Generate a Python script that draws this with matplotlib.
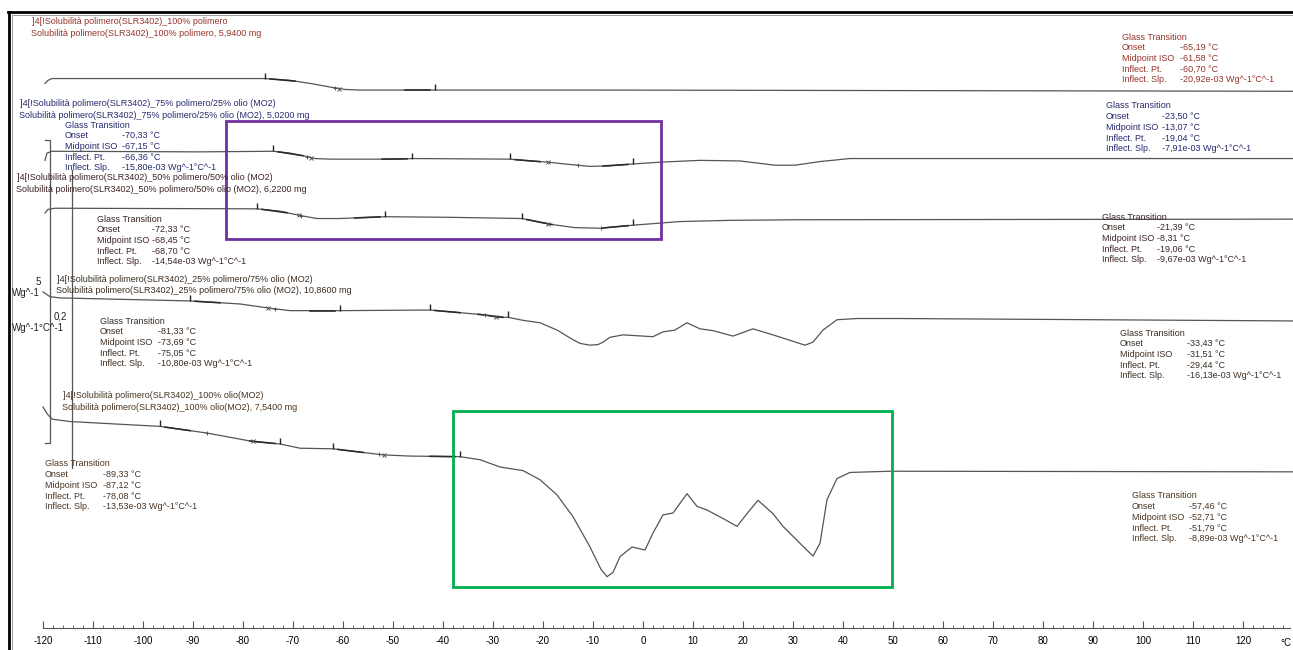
import numpy as np
import matplotlib.pyplot as plt
from matplotlib.patches import Rectangle
from matplotlib.lines import Line2D

plt.rcParams['font.family'] = ['Liberation Sans', 'DejaVu Sans']
plt.rcParams['axes.unicode_minus'] = False

W, H = 1293, 650          # canvas size, px
PX_PER_WG = 60.6          # vertical heat-flow scale, px per Wg^-1

# ---- samples -------------------------------------------------------------
samples = ["100% polimero",
           "75% polimero/25% olio (MO2)",
           "50% polimero/50% olio (MO2)",
           "25% polimero/75% olio (MO2)",
           "100% olio(MO2)"]
masses_mg = [5.94, 5.02, 6.22, 10.86, 7.54]

# ---- DSC curves: temperature (°C) and heat flow relative to start (Wg^-1) --
t_100p = [-119.6, -119.0, -118.2, -98.6, -75.6, -70.6, -66.6, -62.6, -59.6, -56.6,
          -41.6, -8.6, 130.0]
hf_100p = [-0.07, -0.02, 0.01, 0.01, 0.01, -0.02, -0.07, -0.13, -0.17, -0.18,
           -0.18, -0.18, -0.20]

t_75p = [-119.6, -119.2, -118.2, -88.6, -74.0, -70.6, -67.6, -65.6, -62.6, -48.6,
         -46.2, -26.6, -22.6, -19.0, -15.6, -10.6, -6.6, -2.0, 3.4, 11.4,
         19.4, 26.4, 30.4, 35.4, 41.4, 61.4, 130.0]
hf_75p = [-0.15, -0.03, 0.00, -0.01, 0.00, -0.03, -0.08, -0.12, -0.13, -0.13,
          -0.12, -0.13, -0.16, -0.18, -0.21, -0.25, -0.24, -0.21, -0.18, -0.15,
          -0.16, -0.23, -0.23, -0.17, -0.12, -0.12, -0.12]

t_50p = [-119.6, -119.0, -117.6, -77.2, -72.6, -68.6, -65.2, -60.6, -51.6, -38.6,
         -24.2, -19.0, -13.6, -8.6, -2.0, 7.4, 17.4, 31.4, 130.0]
hf_50p = [-0.08, -0.02, 0.00, -0.01, -0.05, -0.12, -0.17, -0.17, -0.14, -0.15,
          -0.17, -0.26, -0.32, -0.33, -0.28, -0.22, -0.20, -0.19, -0.18]

t_25p = [-120.0, -118.6, -116.6, -90.6, -80.6, -74.6, -70.6, -60.6, -42.6, -31.6,
         -29.2, -27.0, -24.0, -20.6, -17.2, -14.0, -12.6, -10.6, -9.0, -8.0,
         -6.6, -4.0, 2.0, 4.0, 6.4, 8.8, 11.4, 14.0, 18.0, 22.0,
         26.0, 29.4, 32.4, 34.0, 36.0, 38.8, 42.8, 51.4, 130.0]
hf_25p = [0.10, 0.02, 0.00, -0.05, -0.10, -0.17, -0.21, -0.21, -0.20, -0.28,
          -0.32, -0.32, -0.37, -0.41, -0.53, -0.69, -0.75, -0.78, -0.77, -0.73,
          -0.65, -0.61, -0.64, -0.56, -0.53, -0.41, -0.51, -0.54, -0.63, -0.51,
          -0.61, -0.70, -0.78, -0.73, -0.53, -0.36, -0.34, -0.34, -0.38]

t_0p = [-120.0, -119.2, -118.2, -114.6, -96.6, -87.2, -78.0, -72.6, -68.6, -62.0,
        -52.0, -46.6, -36.6, -32.6, -28.6, -24.0, -20.6, -17.2, -14.0, -10.6,
        -8.4, -7.2, -6.0, -4.6, -2.2, 0.4, 2.0, 4.0, 6.0, 8.8,
        10.8, 12.8, 16.0, 18.8, 20.8, 23.0, 26.0, 28.0, 31.4, 34.0,
        35.4, 36.8, 38.8, 41.4, 49.4, 130.0]
hf_0p = [0.23, 0.12, 0.03, -0.01, -0.09, -0.20, -0.34, -0.38, -0.45, -0.46,
         -0.56, -0.58, -0.59, -0.64, -0.76, -0.82, -0.97, -1.22, -1.58, -2.08,
         -2.45, -2.57, -2.50, -2.24, -2.08, -2.13, -1.85, -1.55, -1.52, -1.20,
         -1.41, -1.47, -1.61, -1.74, -1.53, -1.31, -1.53, -1.74, -2.02, -2.23,
         -2.02, -1.30, -0.95, -0.85, -0.83, -0.84]

temps = [t_100p, t_75p, t_50p, t_25p, t_0p]
flows = [hf_100p, hf_75p, hf_50p, hf_25p, hf_0p]

# ---- glass transition evaluations (one list per sample) --------------------
tg_onset = [[-65.19], [-70.33, -23.50], [-72.33, -21.39], [-81.33, -33.43], [-89.33, -57.46]]
tg_mid = [[-61.58], [-67.15, -13.07], [-68.45, -8.31], [-73.69, -31.51], [-87.12, -52.71]]
tg_infl = [[-60.70], [-66.36, -19.04], [-68.70, -19.06], [-75.05, -29.44], [-78.08, -51.79]]
tg_slope = [[-20.92], [-15.80, -7.91], [-14.54, -9.67], [-10.80, -16.13], [-13.53, -8.89]]
# evaluation limits (°C)
tg_limits = [[(-75.6, -41.6)],
             [(-74.0, -46.2), (-26.6, -2.0)],
             [(-77.2, -51.6), (-24.2, -2.0)],
             [(-90.6, -60.6), (-42.6, -27.0)],
             [(-96.6, -72.6), (-62.0, -36.6)]]

hf_scale = 5        # Wg^-1
deriv_scale = 0.2   # Wg^-1°C^-1

# ---- layout ---------------------------------------------------------------
offsets = [9.42, 8.23, 7.29, 5.81, 3.78]
text_colors = ['#94352b', '#262a6e', '#3d2424', '#3a2d22', '#4a3523']
title_pos = [(32, 22), (20, 104), (17, 177), (57, 279), (63, 396)]
# (label x, first line y, value x) for each evaluation box
box_pos = [[(1122, 37, 1180)],
           [(65, 125, 122), (1106, 106, 1162)],
           [(97, 219, 152), (1102, 217, 1157)],
           [(100, 321, 158), (1120, 333, 1187)],
           [(45, 464, 103), (1132, 496, 1189)]]
FS = 6.5
LINE = 10.7


def to_y(py):
    return (H - py) / PX_PER_WG


def ftext(px, py, s, **kw):
    fig.text(px / W, 1 - py / H, s, fontsize=kw.pop('fontsize', FS), va='center', **kw)


def comma(v, nd=2):
    return f"{v:.{nd}f}".replace('.', ',')


fig = plt.figure(figsize=(W / 100, H / 100), dpi=100)
ax = fig.add_axes([0, 0, 1, 1])
ax.set_xlim((0 - 643) / 5, (W - 643) / 5)
ax.set_ylim(0, H / PX_PER_WG)

# curves with evaluation marks
for i in range(5):
    t = np.array(temps[i])
    y = np.array(flows[i]) + offsets[i]
    ax.plot(t, y, color='#555555', lw=0.9, zorder=3, solid_joinstyle='round')
    for (a, b) in tg_limits[i]:
        for tl in (a, b):
            ax.plot(tl, np.interp(tl, t, y), marker=2, ms=4, mew=1.0, color='#222222', zorder=4)
        # fitted baseline segments next to the limits
        for tl, tr in ((a + 1, a + 6), (b - 6, b - 1)):
            ts = np.array([tl, tr])
            ax.plot(ts, np.interp(ts, t, y), color='#2a2a2a', lw=1.15, zorder=4)
    for tm in tg_mid[i]:
        ax.plot(tm, np.interp(tm, t, y), marker='+', ms=3.5, mew=0.7, color='#555555', zorder=4)
    for tf in tg_infl[i]:
        ax.plot(tf, np.interp(tf, t, y), marker='x', ms=3.5, mew=0.7, color='#555555', zorder=4)

# scale bars
y_top = to_y(140)
ax.plot([-119.6, -118.6, -118.6, -119.6], [y_top, y_top, y_top - hf_scale, y_top - hf_scale],
        color='#555555', lw=0.9)
y_top2 = to_y(170)
ax.plot([-114.2, -114.2], [y_top2, y_top2 - deriv_scale * 1490 / PX_PER_WG], color='#555555', lw=0.9)
ftext(38, 282, f"{hf_scale}", color='#222222', ha='center', fontsize=7)
ftext(12, 293, "Wg^-1", color='#222222', fontsize=7)
ftext(60, 317, comma(deriv_scale, 1), color='#222222', ha='center', fontsize=7)
ftext(12, 328, "Wg^-1°C^-1", color='#222222', fontsize=7)

# highlight boxes
ax.add_patch(Rectangle((-83.4, to_y(239)), 87.0, to_y(121) - to_y(239),
                       fill=False, edgecolor='#7030a0', lw=2.0, zorder=5))
ax.add_patch(Rectangle((-38.0, to_y(587)), 87.8, to_y(411) - to_y(587),
                       fill=False, edgecolor='#00b050', lw=2.0, zorder=5))

# titles and evaluation boxes
names = ["Onset", "Midpoint ISO", "Inflect. Pt.", "Inflect. Slp."]
for i in range(5):
    c = text_colors[i]
    x0, y0 = title_pos[i]
    ftext(x0, y0, f"]4[!Solubilità polimero(SLR3402)_{samples[i]}", color=c)
    ftext(x0 - 1, y0 + 12, f"Solubilità polimero(SLR3402)_{samples[i]}, {masses_mg[i]:.4f} mg".replace('.', ','), color=c)
    for k, (bx, by, vx) in enumerate(box_pos[i]):
        vals = [f"{comma(tg_onset[i][k])} °C", f"{comma(tg_mid[i][k])} °C",
                f"{comma(tg_infl[i][k])} °C", f"{comma(tg_slope[i][k])}e-03 Wg^-1°C^-1"]
        ftext(bx, by, "Glass Transition", color=c)
        for j in range(4):
            ftext(bx, by + LINE * (j + 1), names[j], color=c)
            ftext(vx, by + LINE * (j + 1), vals[j], color=c)

# temperature axis
for s in ('top', 'left', 'right'):
    ax.spines[s].set_visible(False)
ax.spines['bottom'].set_position(('data', to_y(628)))
ax.spines['bottom'].set_bounds(-120, 129.4)
ax.spines['bottom'].set_color('#555555')
ax.set_xticks(np.arange(-120, 121, 10))
ax.set_xticks(np.arange(-120, 129, 2), minor=True)
ax.tick_params(axis='x', which='major', direction='in', length=5, width=0.8, color='#555555',
               labelsize=7, pad=6)
ax.tick_params(axis='x', which='minor', direction='in', length=2.5, width=0.6, color='#555555')
ax.set_yticks([])
ftext(1286, 643, "°C", fontsize=7, ha='center')

# frame
fig.add_artist(Line2D([9 / W, 9 / W], [0, 1 - 12 / H], transform=fig.transFigure, color='black', lw=2.0))
fig.add_artist(Line2D([8 / W, 1], [1 - 12 / H, 1 - 12 / H], transform=fig.transFigure, color='black', lw=2.0))
fig.add_artist(Line2D([11.5 / W, 11.5 / W], [0, 1 - 14.5 / H], transform=fig.transFigure, color='#999999', lw=0.7))
fig.add_artist(Line2D([11.5 / W, 1], [1 - 14.5 / H, 1 - 14.5 / H], transform=fig.transFigure, color='#999999', lw=0.7))

fig.savefig('out.png', dpi=100)
